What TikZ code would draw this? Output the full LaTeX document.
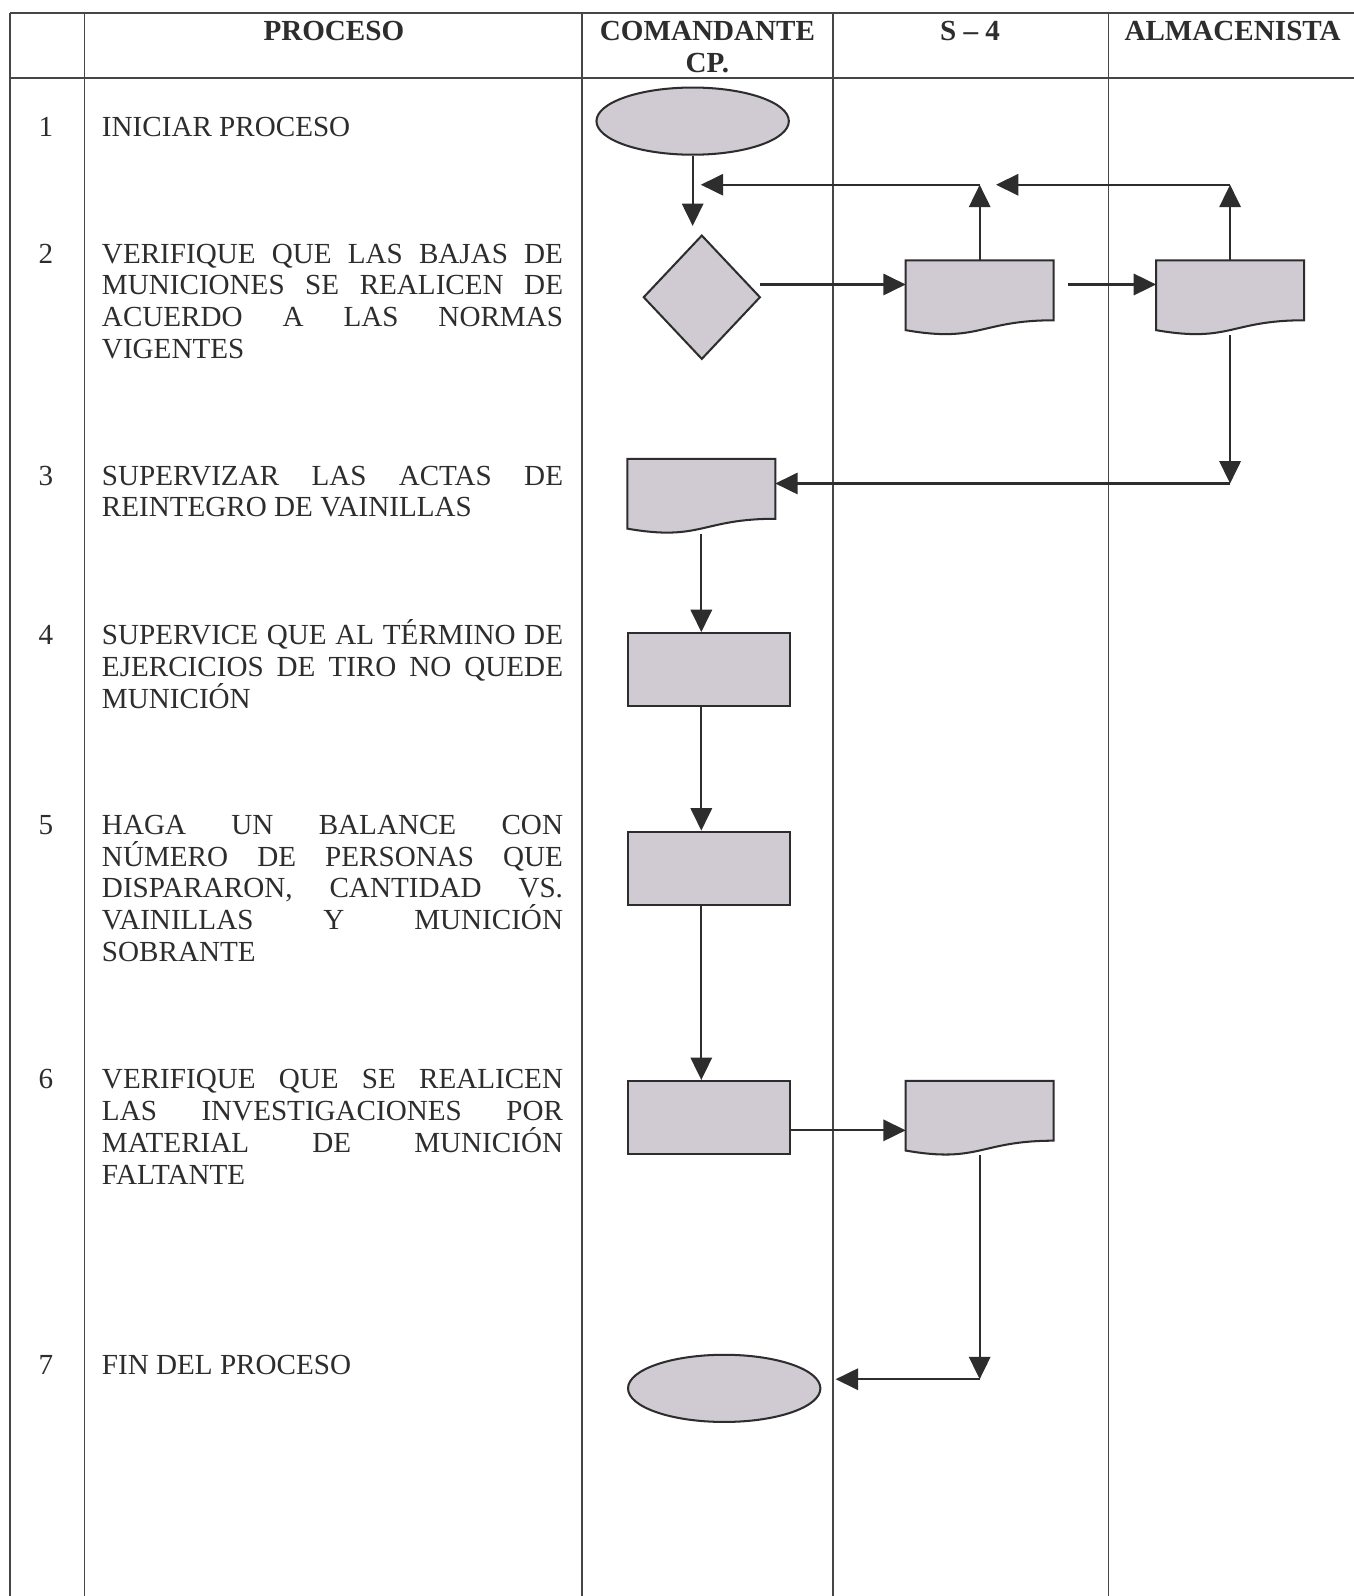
\documentclass[tikz,border=0pt]{standalone}
\usepackage{fontspec}
\setmainfont{Liberation Serif}
\usetikzlibrary{shapes.geometric,arrows.meta,calc}
\definecolor{shapefill}{RGB}{208,202,210}
\definecolor{ink}{RGB}{45,45,45}
\definecolor{rulecol}{RGB}{70,70,70}
\newcommand\bodyfont{\fontsize{28.6pt}{31.3pt}\selectfont}
\newcommand\jline[1]{{\spaceskip=0pt\xspaceskip=0pt\makebox[453pt][s]{#1}}}
\newcommand\docshape[1]{%
  \filldraw[shp] (#1.north west) -- (#1.north east) -- ($(#1.north east)!0.802!(#1.south east)$)
   .. controls ($(#1.north)!0.802!(#1.south)$) and ($(#1.north)!1.1075!(#1.south)$) .. ($(#1.north west)!0.934!(#1.south west)$) -- cycle;}
\tikzset{
  tbl/.style={draw=rulecol, line width=1.8pt},
  shp/.style={draw=ink, fill=shapefill, line width=2pt, inner sep=0pt},
  docbox/.style={inner sep=0pt, minimum width=145pt, minimum height=73pt},
  rectbox/.style={shp, rectangle, minimum width=159pt, minimum height=72pt},
  ovalbox/.style={shp, ellipse, minimum width=189pt, minimum height=66pt},
  arr/.style={draw=ink, line width=2pt, -{Triangle[length=22pt,width=21pt]}},
  hdr/.style={font=\bodyfont\bfseries, text=ink, anchor=base, inner sep=0pt},
  num/.style={text=ink, anchor=base, inner sep=0pt},
  rowtext/.style={text=ink, anchor=base west, inner sep=0pt, text width=453pt, align=justify},
}
\begin{document}
\begin{tikzpicture}[x=1pt,y=-1pt,font=\bodyfont]
\fill[white] (0,0) rectangle (1330,1568);
\useasboundingbox (0,0) rectangle (1330,1568);
% table
\draw[tbl] (9.8,13) -- (1330,13);
\draw[tbl] (9.8,76.6) -- (1330,76.6);
\foreach \xx in {9.8,83,572,818,1089} \draw[tbl] (\xx,13) -- (\xx,1568);
% header
\node[hdr] (h1) at (328,39.5) {PROCESO};
\node[hdr] (h2) at (695,39.5) {COMANDANTE};
\node[hdr] (h2b) at (695,70.8) {CP.};
\node[hdr] (h3) at (953,39.5) {S – 4};
\node[hdr] (h4) at (1211,39.5) {ALMACENISTA};
% numbers
\node[num] (n1) at (45,134.5) {1};
\node[num] (n2) at (45,258.5) {2};
\node[num] (n3) at (45,476.5) {3};
\node[num] (n4) at (45,633.5) {4};
\node[num] (n5) at (45,819.5) {5};
\node[num] (n6) at (45,1069.5) {6};
\node[num] (n7) at (45,1350.5) {7};
% row texts
\node[rowtext] (t1) at (100,134.5) {INICIAR PROCESO};
\node[rowtext] (t2) at (100,258.5) {\jline{VERIFIQUE QUE LAS BAJAS DE}\\\jline{MUNICIONES SE REALICEN DE}\\\jline{ACUERDO A LAS NORMAS}\\VIGENTES};
\node[rowtext] (t3) at (100,476.5) {\jline{SUPERVIZAR LAS ACTAS DE}\\REINTEGRO DE VAINILLAS};
\node[rowtext] (t4) at (100,633.5) {\jline{SUPERVICE QUE AL TÉRMINO DE}\\\jline{EJERCICIOS DE TIRO NO QUEDE}\\MUNICIÓN};
\node[rowtext] (t5) at (100,819.5) {\jline{HAGA UN BALANCE CON}\\\jline{NÚMERO DE PERSONAS QUE}\\\jline{DISPARARON, CANTIDAD VS.}\\\jline{VAINILLAS Y MUNICIÓN}\\SOBRANTE};
\node[rowtext] (t6) at (100,1069.5) {\jline{VERIFIQUE QUE SE REALICEN}\\\jline{LAS INVESTIGACIONES POR}\\\jline{MATERIAL DE MUNICIÓN}\\FALTANTE};
\node[rowtext] (t7) at (100,1350.5) {FIN DEL PROCESO};
% shapes
\node[ovalbox] (start) at (680.5,119) {};
\node[shp, diamond, minimum width=115pt, minimum height=122pt] (dec) at (689.5,292) {};
\node[docbox] (s4a) at (962.5,292.5) {};
\node[docbox] (ala) at (1208.5,292.5) {};
\node[docbox] (cdoc) at (689,487.5) {};
\node[rectbox] (r1) at (696.5,658) {};
\node[rectbox] (r2) at (696.5,853) {};
\node[rectbox] (r3) at (696.5,1098) {};
\node[docbox] (s4b) at (962.5,1098.5) {};
\node[ovalbox] (fin) at (711.5,1364) {};
\docshape{s4a}
\docshape{ala}
\docshape{cdoc}
\docshape{s4b}
% bend points
\coordinate (fb1) at (962.5,181.5);
\coordinate (fb2) at (1208.5,181.5);
\coordinate (fb3) at (1208.5,475);
\coordinate (fb4) at (962.5,1355);
% connectors
\draw[arr, shorten >=8pt] (start.south) -- (start.south |- dec.north);
\draw[arr] (s4a.north) -- (fb1);
\draw[arr, shorten >=8pt] (fb1) -- (start.south |- fb1);
\draw[arr] (ala.north) -- (fb2);
\draw[arr, shorten >=16pt] (fb2) -- (s4a.north |- fb2);
\draw[arr] ($(dec.east)+(-1.5,-12.5)$) -- ($(s4a.west)+(0,-13)$);
\draw[arr] ($(s4a.east)+(14,-13)$) -- ($(ala.west)+(0,-13)$);
\draw[arr] (ala.south) -- (fb3);
\draw[arr] (fb3) -- (cdoc.east |- fb3);
\draw[arr] (cdoc.south) -- (cdoc.south |- r1.north);
\draw[arr] (cdoc.south |- r1.south) -- (cdoc.south |- r2.north);
\draw[arr] (cdoc.south |- r2.south) -- (cdoc.south |- r3.north);
\draw[arr] ($(r3.east)+(0,12.5)$) -- ($(s4b.west)+(0,12)$);
\draw[arr] (s4b.south) -- (fb4);
\draw[arr, shorten >=14pt] (fb4) -- (fin.east |- fb4);
\end{tikzpicture}
\end{document}
